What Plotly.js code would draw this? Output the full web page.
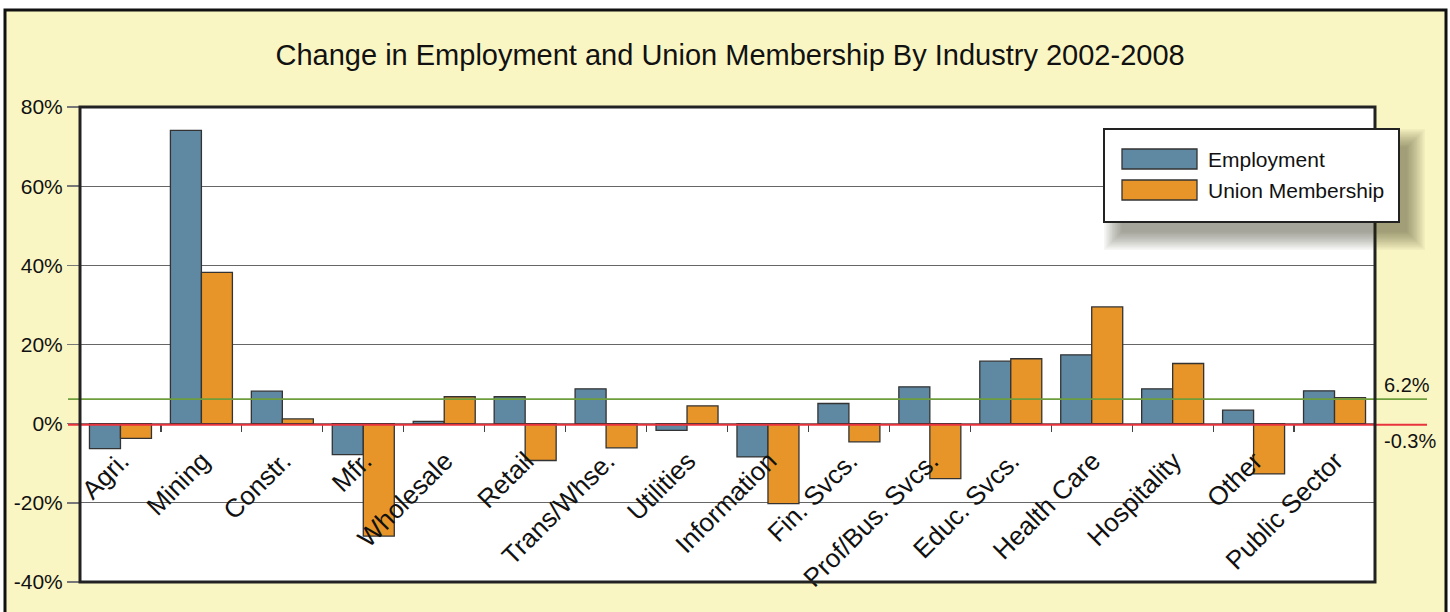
<!DOCTYPE html>
<html>
<head>
<meta charset="utf-8">
<script src="https://cdn.plot.ly/plotly-3.0.1.min.js"></script>
<style>html,body{margin:0;padding:0;background:#fff;}#chart{width:1450px;height:612px;}</style>
</head>
<body>
<div id="chart"></div>
<script>
// ---- data ----
const categories = ['Agri.','Mining','Constr.','Mfr.','Wholesale','Retail','Trans/Whse.','Utilities','Information','Fin. Svcs.','Prof/Bus. Svcs.','Educ. Svcs.','Health Care','Hospitality','Other','Public Sector'];
const employment = [-6.3,74.1,8.2,-7.8,0.6,6.8,8.8,-1.7,-8.4,5.1,9.3,15.8,17.4,8.8,3.4,8.3];
const unionMembership = [-3.7,38.2,1.2,-28.4,6.8,-9.3,-6.1,4.5,-20.2,-4.6,-13.9,16.4,29.5,15.2,-12.7,6.6];
const seriesNames = ['Employment','Union Membership'];
const refValues = [6.2,-0.3];
const refLabels = ['6.2%','-0.3%'];
const yTickVals = [-40,-20,0,20,40,60,80];
const yTickText = ['-40%','-20%','0%','20%','40%','60%','80%'];
const yRange = [-40,80];
const chartTitle = 'Change in Employment and Union Membership By Industry 2002-2008';

// ---- layout helpers (pixel -> paper) ----
const W = 1450, H = 612;
const M = {l:80, r:75, t:107, b:30};
const PW = W - M.l - M.r, PH = H - M.t - M.b;
const px = x => (x - M.l) / PW;
const py = y => (H - M.b - y) / PH;

const FONT = '"Liberation Sans", Arial, Helvetica, sans-serif';
const BLUE = '#5F88A2', ORANGE = '#E79528';
const colors = [BLUE, ORANGE];

const traces = [employment, unionMembership].map((vals, i) => ({
  type: 'bar', x: categories, y: vals, name: seriesNames[i],
  marker: {color: colors[i], line: {color: '#333', width: 1.3}},
  showlegend: false, hoverinfo: 'x+y'
}));

const shapes = [];
// outer frame with yellow fill
shapes.push({type:'rect', xref:'paper', yref:'paper', x0:px(5), x1:px(1446), y0:py(640), y1:py(10),
  fillcolor:'#FAF6C4', line:{color:'#111', width:3}, layer:'below'});
// white plot area
shapes.push({type:'rect', xref:'paper', yref:'paper', x0:0, x1:1, y0:0, y1:1,
  fillcolor:'#ffffff', line:{width:0}, layer:'below'});
// reference lines
const refColors = ['#6E9E3C', '#E8323C'];
const refWidths = [1.6, 2];
refValues.forEach((v, i) => {
  shapes.push({type:'line', xref:'paper', yref:'y', x0:px(68), x1:px(1427), y0:v, y1:v,
    line:{color:refColors[i], width:refWidths[i]}, layer:'above'});
});
// plot frame
shapes.push({type:'rect', xref:'paper', yref:'paper', x0:0, x1:1, y0:0, y1:1,
  line:{color:'#222', width:3}, layer:'above'});

// legend shadow (soft, layered)
const LB = {x0:1104, x1:1399, y0:129, y1:222};
for (let k = 0; k < 12; k++) {
  const g = 14 - k * 1.6;
  shapes.push({type:'rect', xref:'paper', yref:'paper',
    x0:px(LB.x0 + 14 - g), x1:px(LB.x1 + 12 + g), y0:py(LB.y1 + 14 + g), y1:py(LB.y0 + 14 - g),
    fillcolor:'rgba(40,40,20,0.045)', line:{width:0}, layer:'above'});
}
// legend box
shapes.push({type:'rect', xref:'paper', yref:'paper', x0:px(LB.x0), x1:px(LB.x1), y0:py(LB.y1), y1:py(LB.y0),
  fillcolor:'#ffffff', line:{color:'#222', width:2}, layer:'above'});
// legend swatches
const swY = [[149,169],[180,200]];
seriesNames.forEach((n, i) => {
  shapes.push({type:'rect', xref:'paper', yref:'paper', x0:px(1122), x1:px(1197), y0:py(swY[i][1]), y1:py(swY[i][0]),
    fillcolor:colors[i], line:{color:'#333', width:1.3}, layer:'above'});
});

const annotations = [];
seriesNames.forEach((n, i) => {
  annotations.push({xref:'paper', yref:'paper', x:px(1206), y:py((swY[i][0]+swY[i][1])/2),
    xanchor:'left', yanchor:'middle', text:n, showarrow:false,
    font:{family:FONT, size:21, color:'#111'}});
});
refValues.forEach((v, i) => {
  annotations.push({xref:'paper', yref:'y', x:px(1382), y:v, xanchor:'left', yanchor:'middle',
    yshift: i === 0 ? 14 : -16, text:refLabels[i], showarrow:false,
    font:{family:FONT, size:20, color:'#111'}});
});

const layout = {
  width: W, height: H,
  margin: {l:M.l, r:M.r, t:M.t, b:M.b, pad:0},
  paper_bgcolor: '#ffffff', plot_bgcolor: 'rgba(0,0,0,0)',
  font: {family: FONT, color: '#111'},
  title: {text: chartTitle, x: 0.502, xref:'paper', y: 1 - 55/H, yanchor:'middle', xanchor:'center',
    font: {family: FONT, size: 29, color: '#111'}},
  barmode: 'group', bargap: 0.234, bargroupgap: 0,
  xaxis: {
    type: 'category', anchor: 'free', position: (0 - yRange[0]) / (yRange[1] - yRange[0]),
    showgrid: false, showline: false, zeroline: false,
    tickson: 'boundaries', ticks: 'outside', ticklen: 7, tickwidth: 1.2, tickcolor: '#444',
    tickangle: -45, tickfont: {family: FONT, size: 26, color: '#111'},
    ticklabelstandoff: 16, ticklabelshift: 1,
    fixedrange: true
  },
  yaxis: {
    range: yRange, tickmode: 'array', tickvals: yTickVals, ticktext: yTickText,
    showgrid: true, gridcolor: '#666', gridwidth: 1,
    zeroline: true, zerolinecolor: '#777', zerolinewidth: 1.2,
    showline: false, ticks: 'outside', ticklen: 12, tickcolor: '#777', tickwidth: 1.5,
    tickfont: {family: FONT, size: 21, color: '#111'},
    fixedrange: true
  },
  shapes: shapes,
  annotations: annotations,
  showlegend: false
};

Plotly.newPlot('chart', traces, layout, {displayModeBar: false, staticPlot: true});
</script>
</body>
</html>
